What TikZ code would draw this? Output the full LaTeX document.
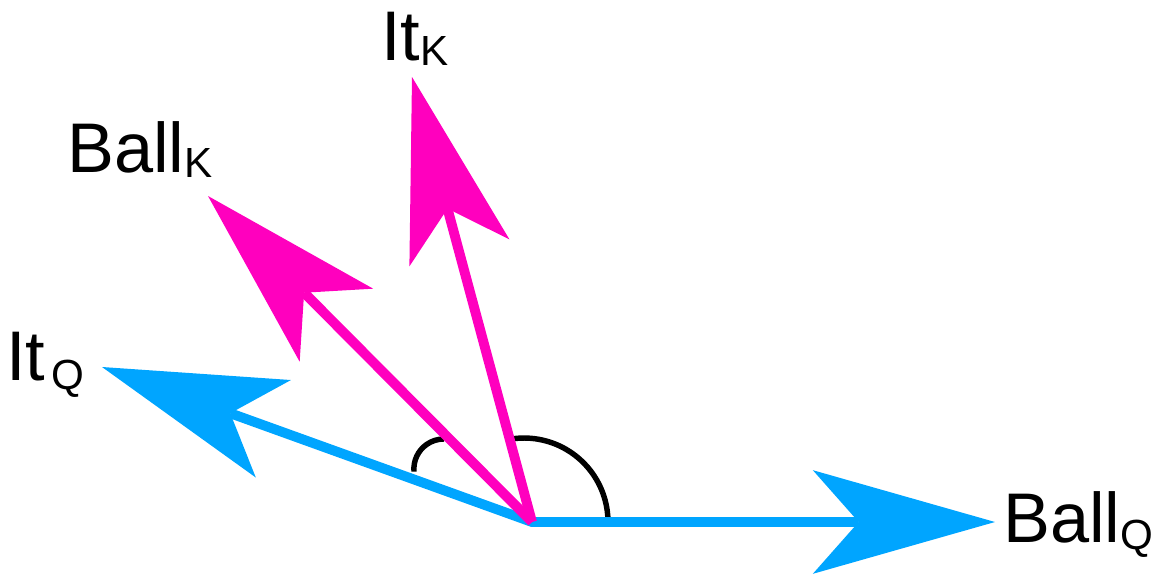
\documentclass[tikz,border=0pt]{standalone}
\usepackage{fontspec}
\setmainfont{Liberation Sans}
\usetikzlibrary{arrows.meta}
\definecolor{qblue}{RGB}{0,165,255}
\definecolor{kmagenta}{RGB}{255,0,190}
\newcommand{\veclabel}[3]{\fontsize{40}{48}\selectfont #1\raisebox{-#3pt}{\fontsize{24}{28}\selectfont #2}}
\begin{document}
\begin{tikzpicture}[x=0.02cm, y=-0.02cm,
    vtip/.tip={Stealth[length=103.7pt, width=59pt, inset=26.1pt, line width=0pt]},
    vec/.style={line width=5.6pt},
    angmark/.style={line width=3.1pt, black},
    lbl/.style={anchor=base west, inner sep=0pt}]
  \useasboundingbox (0,0) rectangle (1164,575);

  % Origin and arrow ends
  \coordinate (o) at (532,522);
  \coordinate (ballq) at (995,522);
  \coordinate (itq) at (102,367);
  \coordinate (ballk) at (208,196);
  \coordinate (itk) at (412,77);

  % Angle marks
  \draw[angmark] (608,522) arc[start angle=0, end angle=100, radius=1.68cm];
  \draw[angmark] (414,471.6) arc[start angle=185, end angle=90, radius=0.6cm];

  % Query vectors
  \draw[qblue, vec, {vtip}-{vtip}] (itq) -- (o) -- (ballq);

  % Key vectors
  \draw[kmagenta, vec, -{vtip}] (o) -- (ballk);
  \draw[kmagenta, vec, -{vtip}] (o) -- (itk);

  % Labels
  \node[lbl] (ballqlbl) at (1003,542) {\veclabel{Ball}{Q}{4.5}};
  \node[lbl] (itqlbl) at (6,380) {\veclabel{It\kern3.5pt}{Q}{5.5}};
  \node[lbl] (ballklbl) at (67,172) {\veclabel{Ball}{K}{3}};
  \node[lbl] (itklbl) at (381,60) {\veclabel{It}{K}{3}};
\end{tikzpicture}
\end{document}
